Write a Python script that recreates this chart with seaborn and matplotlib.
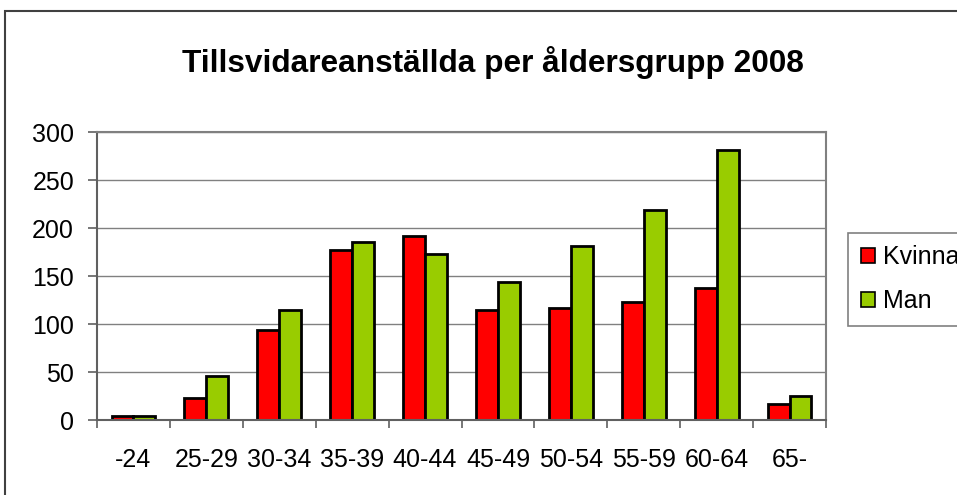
import pandas as pd
import matplotlib.pyplot as plt
import seaborn as sns
from matplotlib.patches import Rectangle
from matplotlib.ticker import FixedLocator

# Data
age_groups = ['-24', '25-29', '30-34', '35-39', '40-44', '45-49', '50-54', '55-59', '60-64', '65-']
kvinna = [4, 23, 94, 177, 192, 115, 117, 123, 138, 17]
man = [4, 46, 115, 185, 173, 144, 181, 219, 281, 25]
series = ['Kvinna', 'Man']
colors = ['#FF0000', '#99CC00']

df = pd.DataFrame({
    'group': age_groups * 2,
    'count': kvinna + man,
    'kon': ['Kvinna'] * len(age_groups) + ['Man'] * len(age_groups),
})

sns.set_theme(style='white')
plt.rcParams['font.family'] = ['Liberation Sans', 'DejaVu Sans']
plt.rcParams['text.color'] = 'black'

fig = plt.figure(figsize=(9.57, 4.95), dpi=100)
ax = fig.add_axes([97 / 957, 75 / 495, 729 / 957, 288 / 495])

sns.barplot(data=df, x='group', y='count', hue='kon', hue_order=series,
            palette=colors, width=0.6, edgecolor='black', linewidth=2,
            saturation=1, ax=ax, legend=False)

# axes look (Excel style)
ax.set_ylim(0, 300)
ax.set_xlim(-0.5, len(age_groups) - 0.5)
ax.set_yticks(range(0, 301, 50))
ax.yaxis.grid(True, color='#808080', linewidth=1.0)
ax.set_axisbelow(True)
ax.set_xlabel('')
ax.set_ylabel('')
for side in ['top', 'right']:
    ax.spines[side].set_color('#808080')
    ax.spines[side].set_linewidth(1.5)
for side in ['left', 'bottom']:
    ax.spines[side].set_color('#606060')
    ax.spines[side].set_linewidth(1.5)

ax.tick_params(axis='x', which='major', length=0, pad=20, labelsize=18, colors='black')
ax.xaxis.set_minor_locator(FixedLocator([i - 0.5 for i in range(len(age_groups) + 1)]))
ax.tick_params(axis='x', which='minor', bottom=True, length=6, width=1.2, color='#606060')
ax.tick_params(axis='y', which='major', left=True, length=6.5, width=1.2, color='#606060',
               labelsize=18, labelcolor='black', pad=10)

fig.suptitle('Tillsvidareanställda per åldersgrupp 2008', x=493 / 957, y=1 - 63 / 495,
             va='center', fontsize=22.8, fontweight='bold', color='black')

# legend
handles = [Rectangle((0, 0), 1, 1, facecolor=c, edgecolor='black', linewidth=1.2) for c in colors]
leg = fig.legend(handles, series, loc='upper left', bbox_to_anchor=(848 / 957, 1 - 233 / 495),
                 frameon=True, fancybox=False, edgecolor='#606060', fontsize=18,
                 handlelength=0.56, handleheight=0.56, handletextpad=0.35,
                 labelspacing=0.8, borderpad=0.5, borderaxespad=0)
leg.get_frame().set_linewidth(1.2)

# outer chart border
fig.patches.append(Rectangle((5 / 957, -0.1), 1.1, 1 - 11 / 495 + 0.1, transform=fig.transFigure,
                             fill=False, edgecolor='#404040', linewidth=1.5, clip_on=False))

fig.savefig('out.png', dpi=100)
